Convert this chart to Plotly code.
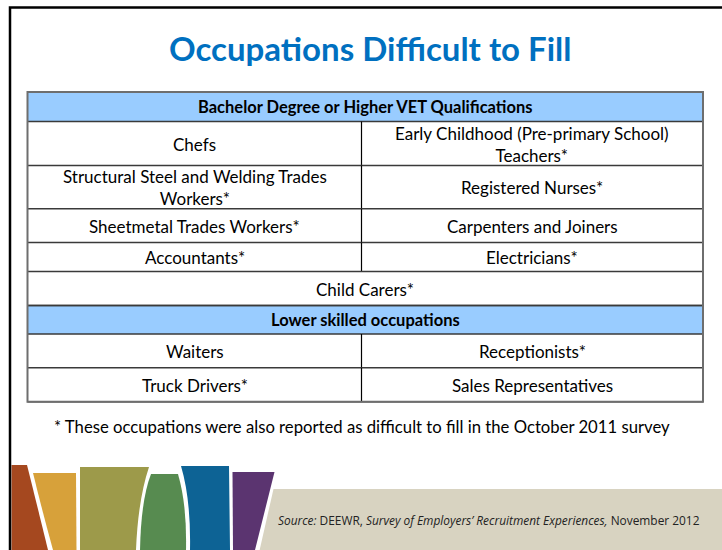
import plotly.graph_objects as go

# ---- content ----
title_text = "Occupations Difficult to Fill"
section_headers = ["Bachelor Degree or Higher VET Qualifications", "Lower skilled occupations"]
higher_left = ["Chefs", "Structural Steel and Welding Trades<br>Workers*",
               "Sheetmetal Trades Workers*", "Accountants*"]
higher_right = ["Early Childhood (Pre-primary School)<br>Teachers*", "Registered Nurses*",
                "Carpenters and Joiners", "Electricians*"]
higher_spanning = ["Child Carers*"]
lower_left = ["Waiters", "Truck Drivers*"]
lower_right = ["Receptionists*", "Sales Representatives"]
footnote = "* These occupations were also reported as difficult to fill in the October 2011 survey"
source_text = ("<i>Source:</i> DEEWR, <i>Survey of Employers\u2019 Recruitment Experiences,</i> "
               "November 2012")

# ---- layout/style ----
W, H = 722, 550
FONT = "Lato"
TX0, TX1, TXM = 27.5, 703, 361.5
TOP = 92
HEADER_FILL = "#99CCFF"
row_heights_sec1 = [44, 43.2, 33.8, 29]
span_height = 34
header_heights = [29.5, 28.5]
row_heights_sec2 = [33.7, 34]
CELL_SIZE = 17

shapes = []
annotations = []

def text(x, y, s, size=CELL_SIZE, color="black", bold=False, xanchor="center"):
    annotations.append(dict(x=x, y=y, xref="x", yref="y", text=(f"<b>{s}</b>" if bold else s),
                            showarrow=False, xanchor=xanchor, yanchor="middle",
                            font=dict(family=FONT, size=size, color=color)))

def hline(y, color="#3a3a3a", w=1.4):
    shapes.append(dict(type="line", x0=TX0, x1=TX1, y0=y, y1=y, xref="x", yref="y",
                       line=dict(color=color, width=w), layer="above"))

def vline(y0, y1):
    shapes.append(dict(type="line", x0=TXM, x1=TXM, y0=y0, y1=y1, xref="x", yref="y",
                       line=dict(color="black", width=1.2), layer="above"))

def header(y, h, s):
    shapes.append(dict(type="rect", x0=TX0, x1=TX1, y0=y, y1=y + h, xref="x", yref="y",
                       fillcolor=HEADER_FILL, line=dict(width=0), layer="below"))
    text((TX0 + TX1) / 2, y + h / 2 + 0.5, s, size=16.5, bold=True)
    hline(y); hline(y + h)
    return y + h

def two_col_rows(y, lefts, rights, heights):
    for l, r, h in zip(lefts, rights, heights):
        text((TX0 + TXM) / 2, y + h / 2 + 0.5, l)
        text((TXM + TX1) / 2, y + h / 2 + 0.5, r)
        vline(y, y + h)
        y += h
        hline(y)
    return y

# Table
y = TOP
y = header(y, header_heights[0], section_headers[0])
y = two_col_rows(y, higher_left, higher_right, row_heights_sec1)
for s in higher_spanning:
    text((TX0 + TX1) / 2, y + span_height / 2 + 0.5, s)
    y += span_height
    hline(y)
y = header(y, header_heights[1], section_headers[1])
y = two_col_rows(y, lower_left, lower_right, row_heights_sec2)
bottom = y
# outer border
shapes.append(dict(type="rect", x0=TX0, x1=TX1, y0=TOP, y1=bottom, xref="x", yref="y",
                   line=dict(color="#6e6e6e", width=2), layer="above"))

# Title & footnote
text(370, 48, title_text, size=33, color="#0070C0", bold=True)
text(362, 427, footnote, size=16.7)

# Decorative footer bands
bands = [
    ("M 11.5 465 L 27 465 Q 37 505 48 550 L 11.5 550 Z", "#A5481F"),
    ("M 33 473 L 76 473 L 76.5 550 L 53 550 Q 42 510 33 473 Z", "#D7A13A"),
    ("M 80 467 L 149 467 Q 138 500 136 550 L 80 550 Z", "#9D9A4A"),
    ("M 151 474 L 178 474 Q 187 505 186 550 L 140 550 Q 141 500 151 474 Z", "#578B50"),
    ("M 181 466 L 229 466 L 230 550 L 190 550 Q 191 500 181 466 Z", "#0D6395"),
    ("M 232.5 472 L 274.5 472 L 255 550 L 233 550 Z", "#5B3470"),
    ("M 273.5 489 L 730 489 L 730 555 L 258.5 555 Z", "#D8D3C1"),
]
for p, c in bands:
    shapes.append(dict(type="path", path=p, xref="x", yref="y", fillcolor=c,
                       line=dict(width=0), layer="below"))

# slide frame
shapes.append(dict(type="path", path="M 10 560 L 10 7.5 L 730 7.5", xref="x", yref="y",
                   line=dict(color="black", width=2.5), layer="above"))

annotations.append(dict(x=276, y=520, xref="x", yref="y", text=source_text, showarrow=False,
                        xanchor="left", yanchor="middle",
                        font=dict(family="Open Sans", size=11.9, color="#222")))

fig = go.Figure()
fig.update_layout(
    width=W, height=H, margin=dict(l=0, r=0, t=0, b=0),
    paper_bgcolor="white", plot_bgcolor="white",
    xaxis=dict(range=[0, W], visible=False, fixedrange=True),
    yaxis=dict(range=[H, 0], visible=False, fixedrange=True),
    shapes=shapes, annotations=annotations, showlegend=False,
)
fig.write_html("out.html", config={"displayModeBar": False},
               post_script="document.body.style.margin='0';document.body.style.overflow='hidden';")
